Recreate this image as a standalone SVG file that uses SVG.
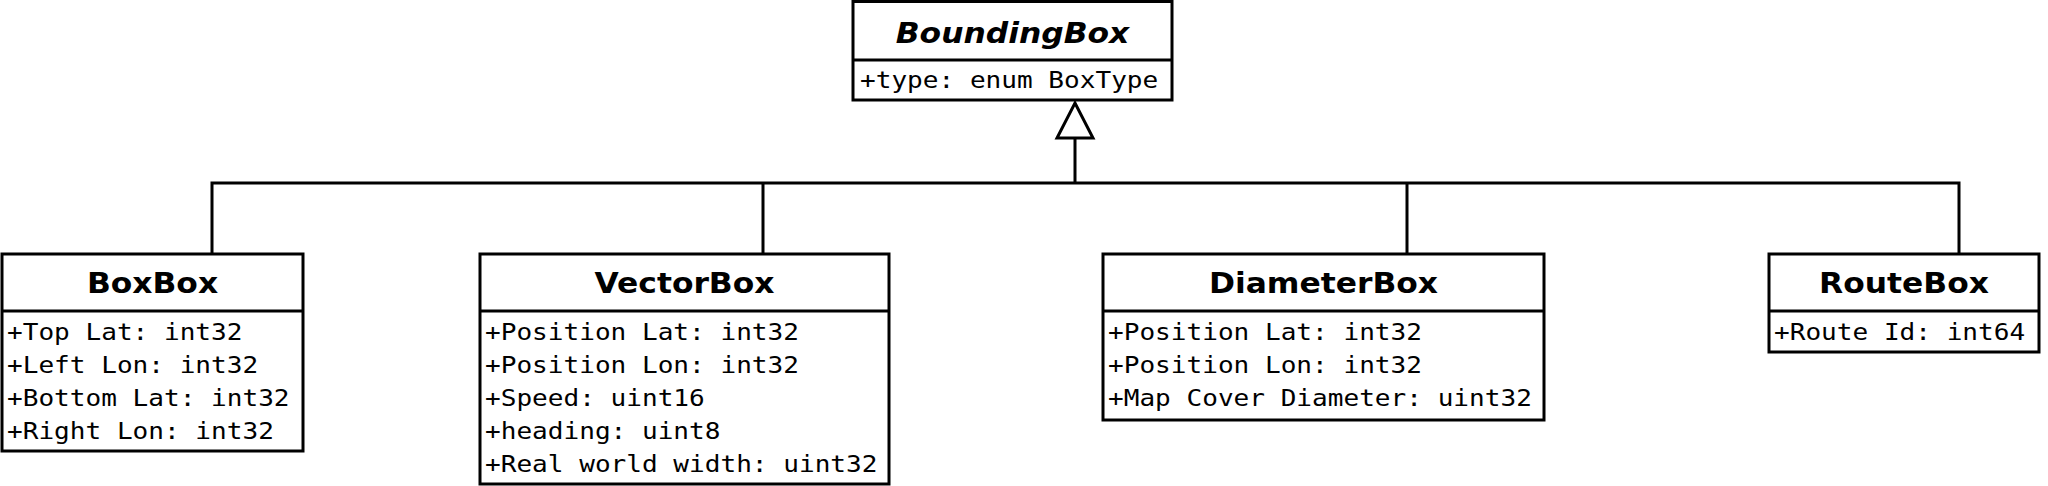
<svg xmlns="http://www.w3.org/2000/svg" width="2048" height="486" viewBox="0 0 2048 486">
<style>
.box{fill:#fff;stroke:#000;stroke-width:3}
.div{stroke:#000;stroke-width:3}
.title{font-family:"DejaVu Sans",sans-serif;font-weight:bold;font-size:28.5px;text-anchor:middle;fill:#000}
.attr{font-family:"DejaVu Sans Mono",monospace;font-size:23.4px;fill:#000}
.conn{fill:none;stroke:#000;stroke-width:3}
</style>
<rect width="2048" height="486" fill="#fff"/>
<g id="connectors">
<path class="conn" d="M212,254 V183 H1959 V254 M763,183 V254 M1407,183 V254 M1075,183 V138"/>
<polygon points="1057,138 1093,138 1075,103" fill="#fff" stroke="#000" stroke-width="3"/>
</g>
<g id="BoundingBox">
<rect class="box" x="853" y="1.5" width="319" height="98.5"/>
<line class="div" x1="853" y1="60" x2="1172" y2="60"/>
<text class="title" transform="translate(1012.5,43) scale(1.1,1)" font-style="italic">BoundingBox</text>
<text class="attr" transform="translate(860,88) scale(1.115,1)">+type: enum BoxType</text>
</g>
<g id="BoxBox">
<rect class="box" x="2" y="254" width="301" height="197"/>
<line class="div" x1="2" y1="311" x2="303" y2="311"/>
<text class="title" transform="translate(152.5,293) scale(1.1,1)">BoxBox</text>
<text class="attr" transform="translate(7,340) scale(1.115,1)">+Top Lat: int32</text>
<text class="attr" transform="translate(7,373) scale(1.115,1)">+Left Lon: int32</text>
<text class="attr" transform="translate(7,406) scale(1.115,1)">+Bottom Lat: int32</text>
<text class="attr" transform="translate(7,439) scale(1.115,1)">+Right Lon: int32</text>
</g>
<g id="VectorBox">
<rect class="box" x="480" y="254" width="409" height="230"/>
<line class="div" x1="480" y1="311" x2="889" y2="311"/>
<text class="title" transform="translate(684.5,293) scale(1.1,1)">VectorBox</text>
<text class="attr" transform="translate(485,340) scale(1.115,1)">+Position Lat: int32</text>
<text class="attr" transform="translate(485,373) scale(1.115,1)">+Position Lon: int32</text>
<text class="attr" transform="translate(485,406) scale(1.115,1)">+Speed: uint16</text>
<text class="attr" transform="translate(485,439) scale(1.115,1)">+heading: uint8</text>
<text class="attr" transform="translate(485,472) scale(1.115,1)">+Real world width: uint32</text>
</g>
<g id="DiameterBox">
<rect class="box" x="1103" y="254" width="441" height="166"/>
<line class="div" x1="1103" y1="311" x2="1544" y2="311"/>
<text class="title" transform="translate(1323.5,293) scale(1.1,1)">DiameterBox</text>
<text class="attr" transform="translate(1108,340) scale(1.115,1)">+Position Lat: int32</text>
<text class="attr" transform="translate(1108,373) scale(1.115,1)">+Position Lon: int32</text>
<text class="attr" transform="translate(1108,406) scale(1.115,1)">+Map Cover Diameter: uint32</text>
</g>
<g id="RouteBox">
<rect class="box" x="1769" y="254" width="270" height="98"/>
<line class="div" x1="1769" y1="311" x2="2039" y2="311"/>
<text class="title" transform="translate(1904,293) scale(1.1,1)">RouteBox</text>
<text class="attr" transform="translate(1774,340) scale(1.115,1)">+Route Id: int64</text>
</g>
</svg>
